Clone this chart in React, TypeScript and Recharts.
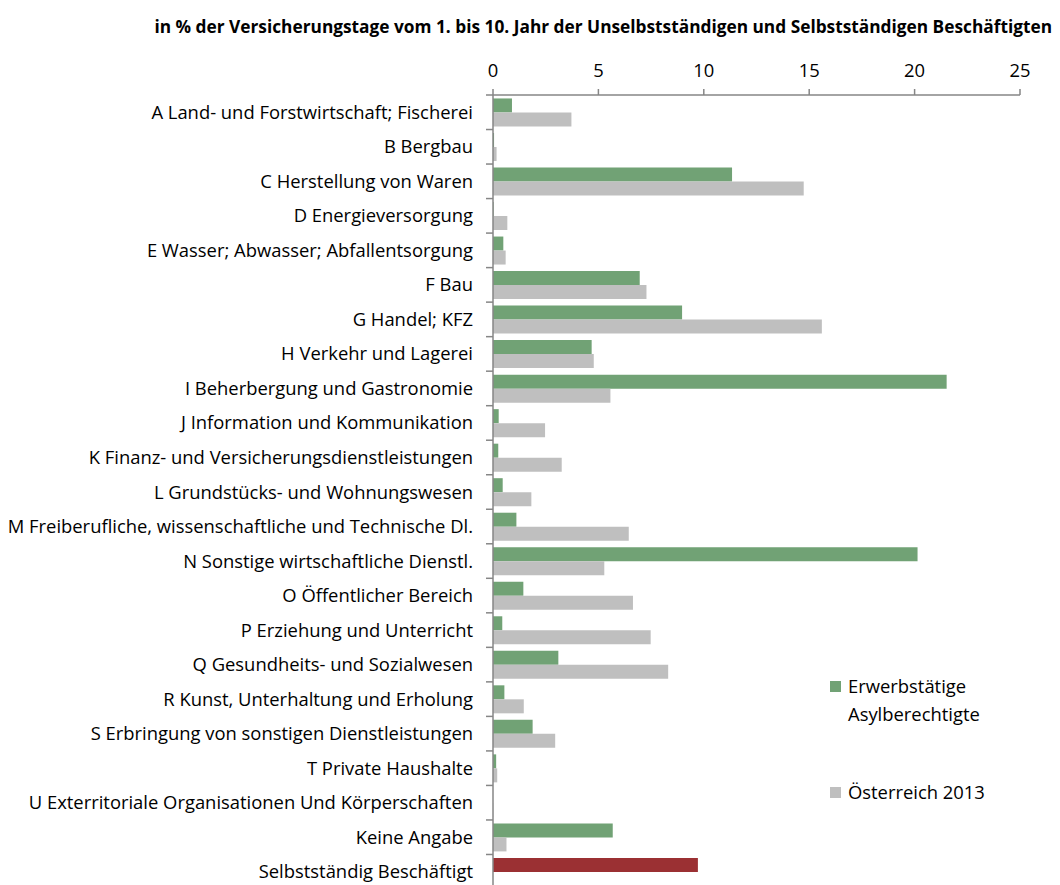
import React from "react";
import { BarChart, Bar, XAxis, YAxis, Cell } from "recharts";

const categories = [
  "A Land- und Forstwirtschaft; Fischerei",
  "B Bergbau",
  "C Herstellung von Waren",
  "D Energieversorgung",
  "E Wasser; Abwasser; Abfallentsorgung",
  "F Bau",
  "G Handel; KFZ",
  "H Verkehr und Lagerei",
  "I Beherbergung und Gastronomie",
  "J Information und Kommunikation",
  "K Finanz- und Versicherungsdienstleistungen",
  "L Grundstücks- und Wohnungswesen",
  "M Freiberufliche, wissenschaftliche und Technische Dl.",
  "N Sonstige wirtschaftliche Dienstl.",
  "O Öffentlicher Bereich",
  "P Erziehung und Unterricht",
  "Q Gesundheits- und Sozialwesen",
  "R Kunst, Unterhaltung und Erholung",
  "S Erbringung von sonstigen Dienstleistungen",
  "T Private Haushalte",
  "U Exterritoriale Organisationen Und Körperschaften",
  "Keine Angabe",
  "Selbstständig Beschäftigt",
];

// Erwerbstätige Asylberechtigte (last entry = Selbstständig, drawn in red)
const asylValues = [
  0.9, 0.05, 11.34, 0.03, 0.49, 6.96, 8.97, 4.68, 21.52, 0.27, 0.25, 0.46,
  1.11, 20.14, 1.44, 0.44, 3.1, 0.54, 1.88, 0.15, 0, 5.68, 9.72,
];

// Österreich 2013
const austriaValues = [
  3.72, 0.17, 14.74, 0.68, 0.6, 7.28, 15.6, 4.78, 5.57, 2.47, 3.26, 1.82,
  6.44, 5.28, 6.64, 7.48, 8.31, 1.46, 2.95, 0.2, 0.01, 0.64, null,
];

const xTicks = [0, 5, 10, 15, 20, 25];

const TITLE =
  "in % der Versicherungstage vom 1. bis 10. Jahr der Unselbstständigen und Selbstständigen Beschäftigten";

const GREEN = "#71a275";
const GRAY = "#bfbfbf";
const RED = "#9b3033";
const AXIS = "#868686";
const FONT = "'Open Sans', Lato, sans-serif";
const FS = 18.4;

const W = 1060;
const H = 900;
const MARGIN = { top: 55, right: 40, bottom: 11, left: 0 };
const X_AXIS_H = 40;
const BAND = (H - MARGIN.top - MARGIN.bottom - X_AXIS_H) / categories.length;

const data = categories.map((name, i) => ({
  name,
  asyl: asylValues[i],
  austria: austriaValues[i],
}));

function CategoryTick(props: any) {
  const { x, y, payload, index } = props;
  const top = y - BAND / 2;
  return (
    <g>
      <line x1={x - 7} x2={x} y1={top} y2={top} stroke={AXIS} strokeWidth={1.5} />
      {index === categories.length - 1 && (
        <line x1={x - 7} x2={x} y1={y + BAND / 2} y2={y + BAND / 2} stroke={AXIS} strokeWidth={1.5} />
      )}
      <text
        x={x - 20}
        y={y - 1}
        textAnchor="end"
        dominantBaseline="central"
        fontSize={FS}
        fontFamily={FONT}
        fill="#000"
      >
        {payload.value}
      </text>
    </g>
  );
}

function LegendBox() {
  const items = [
    { color: GREEN, lines: ["Erwerbstätige", "Asylberechtigte"] },
    { color: GRAY, lines: ["Österreich 2013"] },
  ];
  return (
    <div style={{ fontFamily: FONT, fontSize: FS, color: "#000" }}>
      {items.map((it, k) => (
        <div
          key={k}
          style={{ display: "flex", alignItems: "flex-start", marginBottom: k === 0 ? 56 : 0 }}
        >
          <span
            style={{
              display: "inline-block",
              width: 11,
              height: 11,
              background: it.color,
              marginTop: 3,
              marginRight: 7,
            }}
          />
          <div style={{ lineHeight: "28px", marginTop: -6 }}>
            {it.lines.map((l) => (
              <div key={l}>{l}</div>
            ))}
          </div>
        </div>
      ))}
    </div>
  );
}

export default function App() {
  return (
    <div
      style={{
        position: "absolute",
        left: 0,
        top: 0,
        width: 1060,
        height: 885,
        overflow: "hidden",
        background: "#fff",
      }}
    >
      <div
        style={{
          position: "absolute",
          right: 8,
          top: 15,
          fontFamily: FONT,
          fontWeight: 700,
          fontSize: 17.3,
          whiteSpace: "nowrap",
        }}
      >
        {TITLE}
      </div>
      <div style={{ position: "absolute", left: 830, top: 678, width: 220 }}>
        <LegendBox />
      </div>
      <BarChart
        width={W}
        height={H}
        data={data}
        layout="vertical"
        margin={MARGIN}
        barCategoryGap="10%"
        barGap={0}
      >
        <XAxis
          type="number"
          orientation="top"
          domain={[0, 25]}
          ticks={xTicks}
          height={X_AXIS_H}
          stroke={AXIS}
          strokeWidth={1.5}
          tickSize={6}
          tickMargin={12}
          tick={{ fontSize: FS, fill: "#000", fontFamily: FONT }}
          interval={0}
        />
        <YAxis
          type="category"
          dataKey="name"
          width={493}
          stroke={AXIS}
          strokeWidth={1.5}
          tickLine={false}
          tickSize={0}
          tickMargin={0}
          interval={0}
          tick={<CategoryTick />}
        />
        <Bar dataKey="asyl" fill={GREEN} isAnimationActive={false}>
          {data.map((d, i) => (
            <Cell key={i} fill={i === data.length - 1 ? RED : GREEN} />
          ))}
        </Bar>
        <Bar dataKey="austria" fill={GRAY} isAnimationActive={false} />
      </BarChart>
    </div>
  );
}
